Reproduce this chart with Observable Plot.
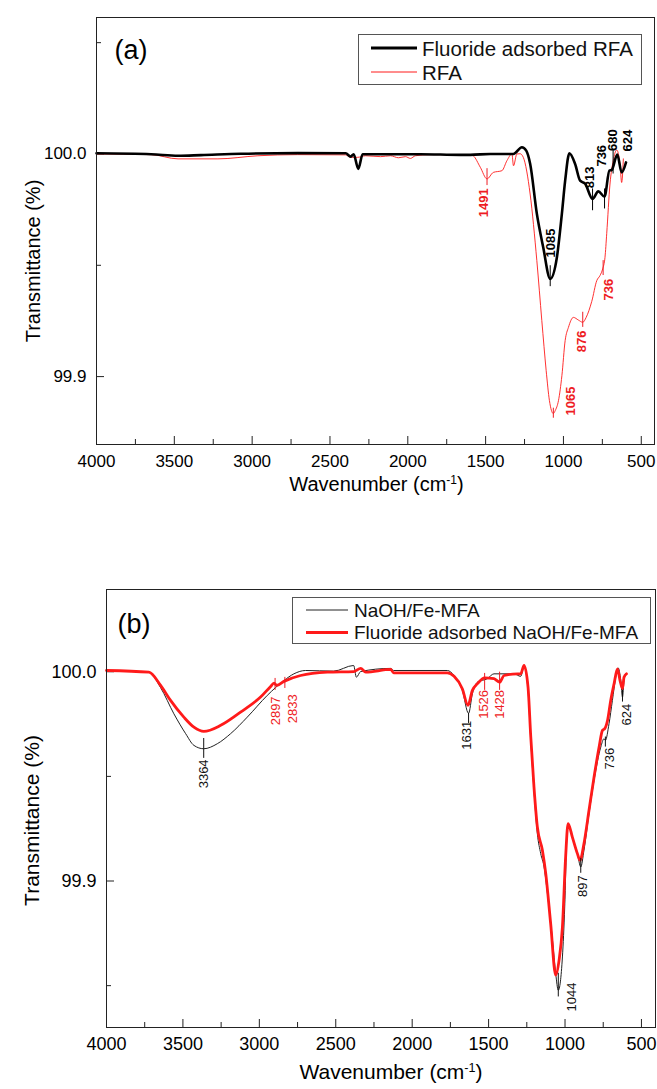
<!DOCTYPE html>
<html>
<head>
<meta charset="utf-8">
<script src="https://cdn.jsdelivr.net/npm/d3@7"></script>
<script src="https://cdn.jsdelivr.net/npm/@observablehq/plot@0.6"></script>
<style>
  body { margin: 0; background: #fff; }
  #wrap { position: relative; width: 657px; height: 1089px; overflow: hidden; font-family: "Liberation Sans", Arial, sans-serif; }
  .panel { position: absolute; left: 0; }
  .legend { position: absolute; }
</style>
</head>
<body>
<div id="wrap"></div>
<script>
// ---------------- DATA ----------------
// x axis ticks (wavenumber, cm-1)
const xMajor = [4000, 3500, 3000, 2500, 2000, 1500, 1000, 500];
const xMinor = [3750, 3250, 2750, 2250, 1750, 1250, 750];
const yMajor = [99.9, 100.0];
const yMinorA = [99.95, 100.05];
const yMinorB = [99.85, 99.95];

// Panel (a): Fluoride adsorbed RFA  [wavenumber, transmittance %]
const rfaFluoride = [
  [4000,100.0003],[3649,99.9999],[3476,99.9992],[3329,99.9995],[3072,100.0001],[2707,100.0004],
  [2399,100.0003],[2367,99.9988],[2348,99.9999],[2318,99.9933],[2290,99.9999],[1919,99.9999],
  [1662,99.9996],[1598,99.9996],[1470,100.0000],[1322,100.0000],[1267,100.0030],[1239,100.0015],
  [1214,99.9956],[1171,99.9732],[1130,99.9581],[1085,99.9439],[1042,99.9536],[1010,99.9732],
  [989,99.9880],[962,100.0003],[925,99.9955],[893,99.9880],[861,99.9867],[813,99.9798],
  [776,99.9832],[736,99.9808],[705,99.9925],[690,99.9928],[654,99.9997],[626,99.9917],[598,99.9962]
];
// Panel (a): RFA
const rfa = [
  [4000,100.0000],[3649,99.9997],[3476,99.9978],[3220,99.9978],[2963,99.9992],[2707,99.9997],
  [2399,99.9996],[2367,99.9985],[2322,99.9985],[2271,99.9992],[2175,99.9988],[2111,99.9992],
  [2060,99.9983],[2015,99.9988],[1983,99.9980],[1951,99.9992],[1855,99.9997],[1598,99.9997],
  [1579,99.9992],[1534,99.9940],[1491,99.9888],[1451,99.9917],[1395,99.9925],[1363,99.9970],
  [1331,100.0000],[1321,99.9947],[1299,100.0000],[1278,100.0001],[1258,99.9985],[1214,99.9820],
  [1171,99.9521],[1139,99.9252],[1111,99.9027],[1090,99.8892],[1065,99.8834],[1053,99.8847],
  [1032,99.8892],[1010,99.9004],[989,99.9162],[968,99.9221],[936,99.9266],[904,99.9254],
  [876,99.9244],[854,99.9266],[818,99.9338],[786,99.9431],[765,99.9454],[748,99.9484],
  [733,99.9536],[722,99.9642],[701,99.9865],[680,99.9970],[658,100.0018],[637,99.9956],
  [626,99.9872],[615,99.9978]
];
// Panel (b): NaOH/Fe-MFA
const mfa = [
  [4000,100.0006],[3723,99.9998],[3646,99.9924],[3559,99.9799],[3482,99.9704],[3428,99.9648],
  [3364,99.9632],[3275,99.9656],[3188,99.9704],[3079,99.9783],[2948,99.9887],[2839,99.9958],
  [2774,99.9990],[2697,100.0006],[2514,100.0003],[2383,100.0030],[2365,99.9974],[2337,100.0001],
  [2141,100.0016],[2121,100.0006],[1770,100.0006],[1726,99.9982],[1672,99.9911],[1631,99.9801],
  [1606,99.9895],[1573,99.9950],[1508,99.9967],[1465,99.9990],[1334,99.9990],[1290,99.9978],
  [1268,100.0025],[1242,99.9911],[1224,99.9672],[1203,99.9433],[1181,99.9226],[1159,99.9131],
  [1137,99.9067],[1115,99.8940],[1082,99.8717],[1061,99.8558],[1044,99.8478],[1017,99.8637],
  [1002,99.8876],[989,99.9194],[978,99.9274],[952,99.9210],[919,99.9131],[897,99.9067],
  [876,99.9147],[843,99.9322],[810,99.9481],[766,99.9640],[745,99.9680],[736,99.9672],
  [712,99.9752],[690,99.9863],[668,99.9974],[653,100.0019],[635,99.9958],[624,99.9879],
  [614,99.9958],[603,99.9990]
];
// Panel (b): Fluoride adsorbed NaOH/Fe-MFA
const mfaFluoride = [
  [4000,100.0006],[3723,99.9998],[3646,99.9935],[3581,99.9863],[3494,99.9783],[3428,99.9735],
  [3363,99.9715],[3253,99.9744],[3123,99.9807],[2992,99.9879],[2926,99.9930],[2904,99.9946],
  [2887,99.9935],[2839,99.9954],[2730,99.9982],[2555,99.9998],[2381,100.0001],[2337,100.0016],
  [2304,99.9998],[2141,100.0011],[2121,99.9995],[1770,99.9995],[1726,99.9978],[1672,99.9919],
  [1635,99.9839],[1606,99.9911],[1573,99.9943],[1526,99.9971],[1465,99.9967],[1428,99.9950],
  [1399,99.9982],[1311,99.9990],[1290,99.9990],[1268,100.0030],[1242,99.9926],[1224,99.9688],
  [1203,99.9449],[1181,99.9258],[1148,99.9147],[1126,99.9035],[1094,99.8797],[1061,99.8550],
  [1039,99.8621],[1017,99.8780],[996,99.9115],[980,99.9274],[952,99.9210],[919,99.9131],
  [902,99.9099],[876,99.9179],[843,99.9338],[810,99.9497],[777,99.9640],[755,99.9720],
  [740,99.9728],[722,99.9767],[701,99.9863],[679,99.9943],[657,100.0014],[640,99.9958],
  [624,99.9919],[614,99.9974],[598,99.9990]
];

// Peak annotations: series key, peak wavenumber, marker span (m1..m2), label centre (tw, tv)
const peaksA = [
  {s:"F", label:"1085", w:1085, m1:99.9498, m2:99.9404, tw:1081, tv:99.9600},
  {s:"F", label:"813",  w:813,  m1:99.9843, m2:99.9745, tw:830,  tv:99.9895},
  {s:"F", label:"736",  w:736,  m1:99.9843, m2:99.9753, tw:755,  tv:99.9992},
  {s:"F", label:"680",  w:681,  m1:100.0015, m2:99.9910, tw:682, tv:100.0062},
  {s:"F", label:"624",  w:null, m1:null, m2:null, tw:586, tv:100.0060},
  {s:"R", label:"1491", w:1491, m1:99.9934, m2:99.9858, tw:1512, tv:99.9781},
  {s:"R", label:"1065", w:1065, m1:99.8858, m2:99.8813, tw:953,  tv:99.8890},
  {s:"R", label:"876",  w:876,  m1:99.9289, m2:99.9221, tw:881,  tv:99.9158},
  {s:"R", label:"736",  w:745,  m1:99.9521, m2:99.9454, tw:708,  tv:99.9391}
];
const peaksB = [
  {s:"N",  label:"3364", w:3364, m1:99.9681, m2:99.9586, tw:3366, tv:99.9512},
  {s:"FN", label:"2897", w:2897, m1:99.9968, m2:99.9911, tw:2895, tv:99.9813},
  {s:"FN", label:"2833", w:2833, m1:99.9973, m2:99.9920, tw:2780, tv:99.9823},
  {s:"N",  label:"1631", w:1631, m1:99.9801, m2:99.9753, tw:1640, tv:99.9696},
  {s:"FN", label:"1526", w:1526, m1:99.9992, m2:99.9911, tw:1530, tv:99.9844},
  {s:"FN", label:"1428", w:1428, m1:99.9998, m2:99.9911, tw:1427, tv:99.9844},
  {s:"N",  label:"1044", w:1044, m1:99.8559, m2:99.8446, tw:956,  tv:99.8446},
  {s:"N",  label:"897",  w:897,  m1:99.9108, m2:99.9037, tw:886,  tv:99.8976},
  {s:"N",  label:"736",  w:736,  m1:99.9688, m2:99.9640, tw:709,  tv:99.9585},
  {s:"N",  label:"624",  w:624,  m1:99.9911, m2:99.9855, tw:596,  tv:99.9795}
];

// ---------------- DRAWING ----------------
const FONT = "'Liberation Sans', Arial, Helvetica, sans-serif";
const RED = "#ff1a1a";
const LABEL_RED = "#ee1c24";
const col = {F: "#000", R: LABEL_RED, N: "#111", FN: LABEL_RED};
const wrap = document.getElementById("wrap");

function superscriptTitle(svg) {
  svg.querySelectorAll("text").forEach(t => {
    if (t.textContent === "Wavenumber (cm-1)") {
      t.textContent = "";
      const ns = "http://www.w3.org/2000/svg";
      const a = document.createElementNS(ns, "tspan"); a.textContent = "Wavenumber (cm";
      const b = document.createElementNS(ns, "tspan"); b.textContent = "-1";
      b.setAttribute("font-size", "0.6em"); b.setAttribute("dy", "-0.55em");
      const c = document.createElementNS(ns, "tspan"); c.textContent = ")";
      c.setAttribute("dy", "0.33em");
      t.append(a, b, c);
    }
  });
}

function panel(o) {
  const fh = o.height - o.mt - o.mb;
  const fw = 657 - o.ml - o.mr;
  const p = Plot.plot({
    width: 657, height: o.height,
    marginLeft: o.ml, marginRight: o.mr, marginTop: o.mt, marginBottom: o.mb,
    style: {fontFamily: FONT, background: "transparent", color: "#000", overflow: "visible"},
    x: {domain: o.xDomain},
    y: {domain: o.yDomain},
    marks: [
      Plot.axisX({ticks: xMajor, tickSize: 0, tickPadding: o.xPad, fontSize: o.tickFont, tickFormat: d => String(d), label: null}),
      Plot.axisY({ticks: yMajor, tickSize: 0, tickPadding: 10, fontSize: o.tickFont, tickFormat: d3.format(".1f"), label: null}),
      Plot.tickX(xMajor, {x: d => d, insetTop: fh - 8, stroke: "#222"}),
      Plot.tickX(xMinor, {x: d => d, insetTop: fh - 5, stroke: "#222"}),
      Plot.tickY(yMajor, {y: d => d, insetRight: fw - 8, stroke: "#222"}),
      Plot.tickY(o.yMinor, {y: d => d, insetRight: fw - 5, stroke: "#222"}),
      ...o.lines.map(l => Plot.line(l.data, {x: d => d[0], y: d => d[1], stroke: l.stroke, strokeWidth: l.sw, curve: "monotone-x"})),
      Plot.ruleX(o.peaks.filter(d => d.w != null), {x: "w", y1: "m1", y2: "m2", stroke: d => col[d.s], strokeWidth: 1}),
      Plot.text(o.peaks, {x: "tw", y: "tv", text: "label", rotate: -90, fill: d => col[d.s], fontSize: 13, fontWeight: o.peakWeight}),
      Plot.frame({stroke: "#222", strokeWidth: 1}),
      Plot.text([o.tag], {text: d => d, frameAnchor: "top-left", dx: o.tagDx, dy: o.tagDy, fontSize: 27, textAnchor: "start", lineAnchor: "middle"}),
      Plot.text(["Transmittance (%)"], {text: d => d, frameAnchor: "left", rotate: -90, dx: o.yTitleDx, dy: o.yTitleDy, fontSize: o.titleFont, textAnchor: "middle", lineAnchor: "middle"}),
      Plot.text(["Wavenumber (cm-1)"], {text: d => d, frameAnchor: "bottom", dx: o.xTitleDx, dy: o.xTitleDy, fontSize: o.titleFont, textAnchor: "middle", lineAnchor: "middle"})
    ]
  });
  superscriptTitle(p);
  const div = document.createElement("div");
  div.className = "panel";
  div.style.top = o.top + "px";
  div.appendChild(p);
  wrap.appendChild(div);
}

function legend(o) {
  const ns = "http://www.w3.org/2000/svg";
  const svg = document.createElementNS(ns, "svg");
  svg.setAttribute("class", "legend");
  svg.setAttribute("width", o.w); svg.setAttribute("height", o.h);
  svg.style.left = o.x + "px"; svg.style.top = o.y + "px";
  const rect = document.createElementNS(ns, "rect");
  rect.setAttribute("x", 0.5); rect.setAttribute("y", 0.5);
  rect.setAttribute("width", o.w - 1); rect.setAttribute("height", o.h - 1);
  rect.setAttribute("fill", "#fff"); rect.setAttribute("stroke", "#555");
  svg.appendChild(rect);
  o.items.forEach(it => {
    const ln = document.createElementNS(ns, "line");
    ln.setAttribute("x1", o.lx1); ln.setAttribute("x2", o.lx2);
    ln.setAttribute("y1", it.y); ln.setAttribute("y2", it.y);
    ln.setAttribute("stroke", it.stroke); ln.setAttribute("stroke-width", it.sw);
    svg.appendChild(ln);
    const tx = document.createElementNS(ns, "text");
    tx.setAttribute("x", o.tx); tx.setAttribute("y", it.y);
    tx.setAttribute("dominant-baseline", "central");
    tx.setAttribute("font-family", FONT); tx.setAttribute("font-size", o.font);
    tx.setAttribute("fill", "#111");
    tx.textContent = it.label;
    svg.appendChild(tx);
  });
  wrap.appendChild(svg);
}

// Panel (a)
panel({
  top: 0, height: 545, ml: 96, mr: 3, mt: 17, mb: 101,
  xDomain: [4000, 415], yDomain: [99.8695, 100.0613], yMinor: yMinorA,
  tickFont: 17, titleFont: 20, xPad: 10,
  lines: [
    {data: rfa, stroke: RED, sw: 0.9},
    {data: rfaFluoride, stroke: "#000", sw: 2.6}
  ],
  peaks: peaksA, peakWeight: "bold",
  tag: "(a)", tagDx: 18, tagDy: 33,
  yTitleDx: -62.5, yTitleDy: 30, xTitleDx: 1, xTitleDy: 40
});
legend({
  x: 358, y: 34, w: 284, h: 51, lx1: 13, lx2: 59, tx: 64, font: 20.5,
  items: [
    {label: "Fluoride adsorbed RFA", y: 14, stroke: "#000", sw: 2.8},
    {label: "RFA", y: 38, stroke: RED, sw: 1}
  ]
});

// Panel (b)
panel({
  top: 545, height: 544, ml: 106, mr: 2, mt: 44, mb: 62,
  xDomain: [4000, 408], yDomain: [99.83, 100.0393], yMinor: yMinorB,
  tickFont: 18, titleFont: 21, xPad: 10,
  lines: [
    {data: mfa, stroke: "#222", sw: 1},
    {data: mfaFluoride, stroke: RED, sw: 2.8}
  ],
  peaks: peaksB, peakWeight: "normal",
  tag: "(b)", tagDx: 11, tagDy: 35,
  yTitleDx: -74.6, yTitleDy: 12, xTitleDx: 10, xTitleDy: 45
});
legend({
  x: 292, y: 597, w: 359, h: 47, lx1: 14, lx2: 56, tx: 62, font: 19,
  items: [
    {label: "NaOH/Fe-MFA", y: 13, stroke: "#222", sw: 1},
    {label: "Fluoride adsorbed NaOH/Fe-MFA", y: 35.5, stroke: RED, sw: 3}
  ]
});
</script>
</body>
</html>
